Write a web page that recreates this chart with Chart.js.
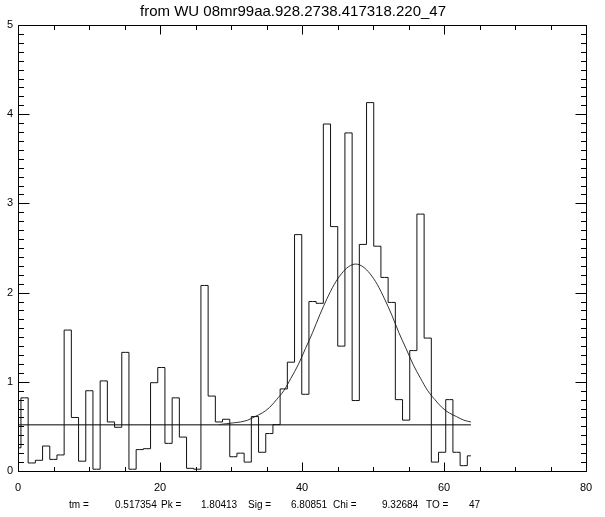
<!DOCTYPE html>
<html>
<head>
<meta charset="utf-8">
<script src="https://cdn.jsdelivr.net/npm/chart.js@4/dist/chart.umd.min.js"></script>
<style>
    html, body { margin: 0; padding: 0; background: #fff; }
    canvas { display: block; }
</style>
</head>
<body>
<canvas id="chart" width="605" height="517"></canvas>
<script>
// histogram bin centres (x position) and counts
const binCenters = [
    -0.09, 0.92, 1.94, 2.95, 3.97, 4.98, 5.99, 7.01, 8.02, 9.04, 10.05, 11.06, 12.08, 13.09, 14.11, 15.12,
    16.13, 17.15, 18.16, 19.18, 20.19, 21.20, 22.22, 23.23, 24.25, 25.26, 26.27, 27.29, 28.30, 29.32, 30.33, 31.34,
    32.36, 33.37, 34.39, 35.40, 36.41, 37.43, 38.44, 39.46, 40.47, 41.48, 42.50, 43.51, 44.53, 45.54, 46.55, 47.57,
    48.58, 49.60, 50.61, 51.62, 52.64, 53.65, 54.67, 55.68, 56.69, 57.71, 58.72, 59.74, 60.75, 61.76, 62.78, 63.79,
];
const counts = [
    0.26, 0.82, 0.09, 0.12, 0.28, 0.13, 0.18, 1.58, 0.60, 0.11, 0.90, 0.02, 1.01, 0.55, 0.49, 1.33,
    0.02, 0.24, 0.25, 0.99, 1.16, 0.31, 0.82, 0.38, 0.03, 0.02, 2.08, 0.84, 0.55, 0.58, 0.16, 0.20,
    0.10, 0.61, 0.21, 0.42, 0.52, 0.92, 1.22, 2.65, 0.86, 1.90, 1.88, 3.89, 2.74, 1.40, 3.79, 0.79,
    2.54, 4.13, 2.52, 2.17, 1.89, 0.80, 0.57, 1.35, 2.88, 1.49, 0.10, 0.21, 0.80, 0.21, 0.06, 0.17,
];

// fitted gaussian curve (same x positions as bins 28..63)
const fitX = [
    28.30, 29.32, 30.33, 31.34, 32.36, 33.37, 34.39, 35.40, 36.41, 37.43, 38.44, 39.46,
    40.47, 41.48, 42.50, 43.51, 44.53, 45.54, 46.55, 47.57, 48.58, 49.60, 50.61, 51.62,
    52.64, 53.65, 54.67, 55.68, 56.69, 57.71, 58.72, 59.74, 60.75, 61.76, 62.78, 63.79,
];
const fitY = [
    0.52, 0.53, 0.54, 0.55, 0.57, 0.61, 0.65, 0.71, 0.80, 0.90, 1.04, 1.19,
    1.37, 1.55, 1.75, 1.93, 2.09, 2.21, 2.29, 2.32, 2.29, 2.21, 2.09, 1.93,
    1.75, 1.55, 1.37, 1.19, 1.04, 0.90, 0.80, 0.71, 0.65, 0.61, 0.57, 0.55,
];

// background level line (tm)
const baseX = [0, 63.79];
const baseY = [0.517354, 0.517354];

const xTicks = [0, 20, 40, 60, 80];
const yTicks = [0, 1, 2, 3, 4, 5];

const titleText = 'from WU 08mr99aa.928.2738.417318.220_47';
const fitLabels = ['tm =', 'Pk =', 'Sig =', 'Chi =', 'TO ='];
const fitValues = ['0.517354', '1.80413', '6.80851', '9.32684', '47'];

const FONT = "'Liberation Sans', Arial, Helvetica, sans-serif";

const toPoints = (xs, ys) => xs.map((x, i) => ({ x: x, y: ys[i] }));

// IDL-style box with inward ticks on all four sides, plus the fit summary line
const frameTicks = {
    id: 'frameTicks',
    afterDraw(chart) {
        const { ctx, chartArea: a, scales } = chart;
        const sx = scales.x;
        const sy = scales.y;
        const L = Math.round(a.left) + 0.5;
        const R = Math.round(a.right) + 0.5;
        const T = Math.round(a.top) + 0.5;
        const B = Math.round(a.bottom) + 0.5;
        ctx.save();
        ctx.strokeStyle = '#000';
        ctx.lineWidth = 1;
        ctx.beginPath();
        ctx.rect(L, T, R - L, B - T);
        for (let v = 0; v <= 80; v += 5) {
            const px = Math.round(sx.getPixelForValue(v)) + 0.5;
            const len = v % 20 === 0 ? 9 : 4.5;
            ctx.moveTo(px, B);
            ctx.lineTo(px, B - len);
            ctx.moveTo(px, T);
            ctx.lineTo(px, T + len);
        }
        for (let i = 0; i <= 50; i++) {
            const py = Math.round(sy.getPixelForValue(i / 10)) + 0.5;
            const len = i % 10 === 0 ? 11 : 5.5;
            ctx.moveTo(L, py);
            ctx.lineTo(L + len, py);
            ctx.moveTo(R, py);
            ctx.lineTo(R - len, py);
        }
        ctx.stroke();

        ctx.fillStyle = '#000';
        ctx.font = '10px ' + FONT;
        ctx.textBaseline = 'middle';
        ctx.textAlign = 'left';
        const labelX = [69, 161, 248, 333, 426];
        const valueX = [115, 201, 291, 382, 469];
        fitLabels.forEach((t, i) => ctx.fillText(t, labelX[i], 505));
        fitValues.forEach((t, i) => ctx.fillText(t, valueX[i], 505));
        ctx.restore();
    },
};

new Chart(document.getElementById('chart'), {
    type: 'line',
    data: {
        datasets: [
            {
                label: 'counts',
                data: toPoints(binCenters, counts),
                stepped: 'middle',
                borderColor: '#111',
                borderWidth: 1,
                pointRadius: 0,
                fill: false,
            },
            {
                label: 'fit',
                data: toPoints(fitX, fitY),
                borderColor: '#333',
                borderWidth: 1,
                pointRadius: 0,
                cubicInterpolationMode: 'monotone',
                fill: false,
            },
            {
                label: 'level',
                data: toPoints(baseX, baseY),
                borderColor: '#000',
                borderWidth: 1,
                pointRadius: 0,
                fill: false,
            },
        ],
    },
    options: {
        responsive: false,
        animation: false,
        layout: {
            padding: { left: 0, right: 19, top: 0, bottom: 0 },
        },
        plugins: {
            legend: { display: false },
            tooltip: { enabled: false },
            title: {
                display: true,
                text: titleText,
                color: '#000',
                font: { family: FONT, size: 15, weight: 'normal' },
                padding: { top: 3, bottom: 4 },
            },
        },
        scales: {
            x: {
                type: 'linear',
                min: 0,
                max: 80,
                afterBuildTicks: (scale) => {
                    scale.ticks = xTicks.map((v) => ({ value: v }));
                },
                afterFit: (scale) => {
                    scale.height = 46;
                },
                grid: { display: false, drawTicks: false },
                border: { display: false },
                ticks: {
                    color: '#000',
                    padding: 10,
                    maxRotation: 0,
                    font: { family: FONT, size: 11 },
                },
            },
            y: {
                type: 'linear',
                min: 0,
                max: 5,
                afterBuildTicks: (scale) => {
                    scale.ticks = yTicks.map((v) => ({ value: v }));
                },
                afterFit: (scale) => {
                    scale.width = 18;
                },
                grid: { display: false, drawTicks: false },
                border: { display: false },
                ticks: {
                    color: '#000',
                    padding: 5,
                    font: { family: FONT, size: 11 },
                },
            },
        },
    },
    plugins: [frameTicks],
});
</script>
</body>
</html>
